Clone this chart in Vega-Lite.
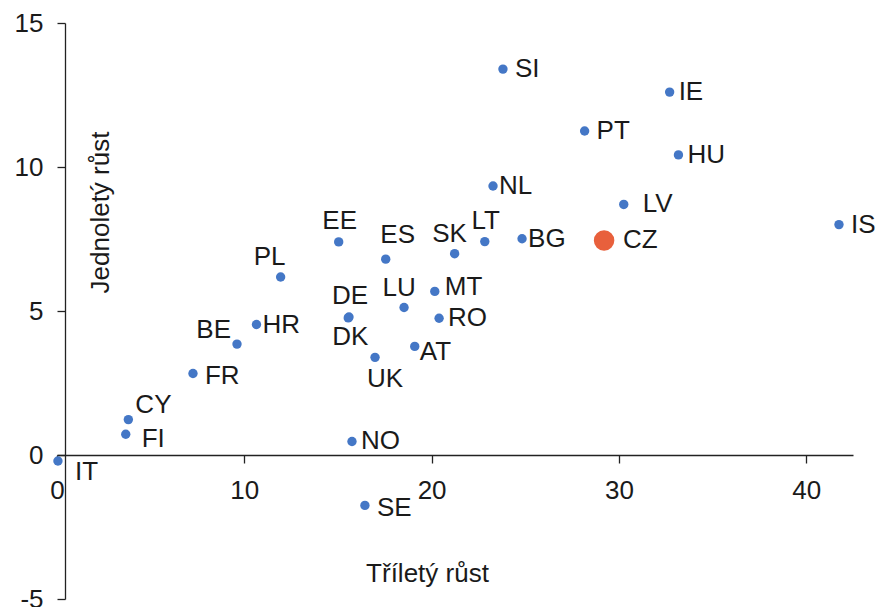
{
  "$schema": "https://vega.github.io/schema/vega-lite/v6.json",
  "autosize": {"type": "none"},
  "padding": {"left": 57, "top": 23, "right": 24, "bottom": 8},
  "width": 796,
  "height": 576,
  "background": "#ffffff",
  "config": {
    "view": {"stroke": null},
    "font": "Liberation Sans",
    "text": {"font": "Liberation Sans", "fontSize": 26, "baseline": "middle", "color": "#1a1a1a", "align": "left"},
    "axis": {
      "labelFont": "Liberation Sans", "labelFontSize": 26, "labelColor": "#1a1a1a",
      "titleFont": "Liberation Sans", "titleFontSize": 26, "titleFontWeight": "normal", "titleColor": "#1a1a1a",
      "domainColor": "#222222", "domainWidth": 1.3, "tickColor": "#222222", "tickWidth": 1.3,
      "tickSize": 8, "labelPadding": 14, "grid": false, "labelFlush": false
    }
  },
  "data": {
    "values": [
      {"c": "SI", "x": 23.81, "y": 13.40},
      {"c": "IE", "x": 32.71, "y": 12.60},
      {"c": "PT", "x": 28.17, "y": 11.25},
      {"c": "HU", "x": 33.18, "y": 10.42},
      {"c": "NL", "x": 23.28, "y": 9.34},
      {"c": "LV", "x": 30.26, "y": 8.70},
      {"c": "IS", "x": 41.75, "y": 8.00},
      {"c": "CZ", "x": 29.21, "y": 7.45},
      {"c": "BG", "x": 24.83, "y": 7.51},
      {"c": "LT", "x": 22.84, "y": 7.41},
      {"c": "SK", "x": 21.23, "y": 6.99},
      {"c": "EE", "x": 15.04, "y": 7.40},
      {"c": "ES", "x": 17.55, "y": 6.80},
      {"c": "PL", "x": 11.94, "y": 6.18},
      {"c": "MT", "x": 20.17, "y": 5.68},
      {"c": "LU", "x": 18.53, "y": 5.12},
      {"c": "RO", "x": 20.40, "y": 4.75},
      {"c": "DE", "x": 15.59, "y": 4.79},
      {"c": "DK", "x": 15.55, "y": 4.76},
      {"c": "HR", "x": 10.65, "y": 4.53},
      {"c": "BE", "x": 9.61, "y": 3.85},
      {"c": "AT", "x": 19.10, "y": 3.77},
      {"c": "UK", "x": 16.98, "y": 3.39},
      {"c": "FR", "x": 7.26, "y": 2.83},
      {"c": "CY", "x": 3.81, "y": 1.23},
      {"c": "FI", "x": 3.67, "y": 0.72},
      {"c": "NO", "x": 15.75, "y": 0.47},
      {"c": "IT", "x": 0.05, "y": -0.21},
      {"c": "SE", "x": 16.44, "y": -1.75}
    ]
  },
  "encoding": {
    "x": {
      "field": "x", "type": "quantitative",
      "scale": {"domain": [0, 42.5], "nice": false, "zero": false},
      "axis": {
        "values": [0, 10, 20, 30, 40], "offset": -144,
        "title": "Tříletý růst", "titleX": 370, "titleY": 118,
        "titleAlign": "center", "titleBaseline": "middle", "titleAngle": 0
      }
    },
    "y": {
      "field": "y", "type": "quantitative",
      "scale": {"domain": [-5, 15], "nice": false, "zero": false},
      "axis": {
        "values": [-5, 0, 5, 10, 15], "offset": -8,
        "labelExpr": "datum.value < 0 ? '-' + abs(datum.value) : datum.label",
        "title": "Jednoletý růst", "titleX": 35, "titleY": 189,
        "titleAlign": "center", "titleBaseline": "middle", "titleAngle": -90
      }
    }
  },
  "layer": [
    {
      "mark": {"type": "point", "filled": true, "opacity": 1, "clip": false},
      "encoding": {
        "color": {"condition": {"test": "datum.c === 'CZ'", "value": "#E8603C"}, "value": "#4477C6"},
        "size": {"condition": {"test": "datum.c === 'CZ'", "value": 420}, "value": 88}
      }
    },
    {"transform": [{"filter": {"field": "c", "oneOf": ["NL", "BG", "HR"]}}], "mark": {"type": "text", "dx": 6, "dy": 0}, "encoding": {"text": {"field": "c"}}},
    {"transform": [{"filter": {"field": "c", "oneOf": ["AT"]}}], "mark": {"type": "text", "dx": 5, "dy": 6}, "encoding": {"text": {"field": "c"}}},
    {"transform": [{"filter": {"field": "c", "oneOf": ["HU", "IE", "RO", "NO"]}}], "mark": {"type": "text", "dx": 9, "dy": 0}, "encoding": {"text": {"field": "c"}}},
    {"transform": [{"filter": {"field": "c", "oneOf": ["MT"]}}], "mark": {"type": "text", "dx": 10, "dy": -4}, "encoding": {"text": {"field": "c"}}},
    {"transform": [{"filter": {"field": "c", "oneOf": ["SI", "PT", "IS"]}}], "mark": {"type": "text", "dx": 12, "dy": 0}, "encoding": {"text": {"field": "c"}}},
    {"transform": [{"filter": {"field": "c", "oneOf": ["SE", "FR"]}}], "mark": {"type": "text", "dx": 12, "dy": 3}, "encoding": {"text": {"field": "c"}}},
    {"transform": [{"filter": {"field": "c", "oneOf": ["CZ", "LV"]}}], "mark": {"type": "text", "dx": 19, "dy": 0}, "encoding": {"text": {"field": "c"}}},
    {"transform": [{"filter": {"field": "c", "oneOf": ["FI"]}}], "mark": {"type": "text", "dx": 16, "dy": 5}, "encoding": {"text": {"field": "c"}}},
    {"transform": [{"filter": {"field": "c", "oneOf": ["CY"]}}], "mark": {"type": "text", "dx": 7, "dy": -15}, "encoding": {"text": {"field": "c"}}},
    {"transform": [{"filter": {"field": "c", "oneOf": ["IT"]}}], "mark": {"type": "text", "dx": 17, "dy": 11}, "encoding": {"text": {"field": "c"}}},
    {"transform": [{"filter": {"field": "c", "oneOf": ["BE"]}}], "mark": {"type": "text", "align": "right", "dx": -6, "dy": -14}, "encoding": {"text": {"field": "c"}}},
    {"transform": [{"filter": {"field": "c", "oneOf": ["EE", "LT", "DE"]}}], "mark": {"type": "text", "align": "center", "dx": 1, "dy": -21}, "encoding": {"text": {"field": "c"}}},
    {"transform": [{"filter": {"field": "c", "oneOf": ["SK", "LU"]}}], "mark": {"type": "text", "align": "center", "dx": -5, "dy": -20}, "encoding": {"text": {"field": "c"}}},
    {"transform": [{"filter": {"field": "c", "oneOf": ["PL"]}}], "mark": {"type": "text", "align": "center", "dx": -11, "dy": -20}, "encoding": {"text": {"field": "c"}}},
    {"transform": [{"filter": {"field": "c", "oneOf": ["ES"]}}], "mark": {"type": "text", "align": "center", "dx": 12, "dy": -24}, "encoding": {"text": {"field": "c"}}},
    {"transform": [{"filter": {"field": "c", "oneOf": ["DK"]}}], "mark": {"type": "text", "align": "center", "dx": 2, "dy": 19}, "encoding": {"text": {"field": "c"}}},
    {"transform": [{"filter": {"field": "c", "oneOf": ["UK"]}}], "mark": {"type": "text", "align": "center", "dx": 10, "dy": 22}, "encoding": {"text": {"field": "c"}}}
  ]
}
